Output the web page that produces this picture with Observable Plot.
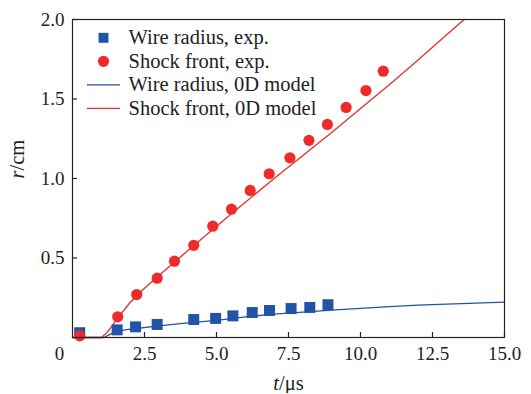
<!DOCTYPE html>
<html><head><meta charset="utf-8">
<script src="https://cdn.jsdelivr.net/npm/d3@7"></script>
<script src="https://cdn.jsdelivr.net/npm/@observablehq/plot@0.6"></script>
<style>body{margin:0;background:#fff}#chart{width:531px;height:394px}</style>
</head><body><div id="chart"></div>
<script>
// Experimental data
const wireExpT = [0.25, 1.55, 2.19, 2.94, 4.21, 4.97, 5.57, 6.24, 6.84, 7.59, 8.24, 8.87];
const wireExpR = [0.03, 0.048, 0.067, 0.082, 0.113, 0.12, 0.136, 0.157, 0.17, 0.182, 0.189, 0.206];
const shockExpT = [0.25, 1.57, 2.23, 2.94, 3.54, 4.21, 4.87, 5.52, 6.17, 6.83, 7.55, 8.21, 8.85, 9.50, 10.19, 10.79];
const shockExpR = [0.01, 0.13, 0.27, 0.373, 0.48, 0.58, 0.70, 0.807, 0.925, 1.03, 1.13, 1.24, 1.34, 1.447, 1.553, 1.675];
// 0D model curves
const wireModelT = [0, 1.1, 1.3, 1.5, 2, 3, 4, 5, 6, 7, 8, 9, 10, 11, 12, 13, 14, 15];
const wireModelR = [0, 0, 0.02, 0.038, 0.052, 0.073, 0.092, 0.108, 0.13, 0.147, 0.16, 0.172, 0.183, 0.194, 0.203, 0.21, 0.216, 0.222];
const shockModelT = [0, 1.0, 1.2, 1.4, 1.6, 2.0, 2.5, 3, 4, 5, 6, 7, 8, 9, 10, 11, 12, 13, 13.6];
const shockModelR = [0, 0, 0.03, 0.08, 0.13, 0.22, 0.31, 0.39, 0.545, 0.70, 0.85, 1.0, 1.145, 1.29, 1.44, 1.59, 1.745, 1.905, 2.0];
// Axis ticks & labels
const xTicks = [2.5, 5, 7.5, 10, 12.5, 15];
const yTicks = [0.5, 1.0, 1.5, 2.0];
const originLabel = ["0"];
const xLabel = ["t/μs"];
const yLabel = ["r/cm"];
const legendLabels = ["Wire radius, exp.", "Shock front, exp.", "Wire radius, 0D model", "Shock front, 0D model"];

const blue = "#2153a6", red = "#ee2a2a", ink = "#222222";
const font = "Liberation Serif";
const W = 531, H = 393, mL = 72, mR = 27, mT = 19, mB = 56;
const xDomain = [0, 15], yDomain = [0, 2];
// inward tick length of 5px expressed in data units
const tickLenX = 5 * (xDomain[1] - xDomain[0]) / (W - mL - mR);
const tickLenY = 5 * (yDomain[1] - yDomain[0]) / (H - mT - mB);

const wireExp = wireExpT.map((t, i) => ({t, r: wireExpR[i]}));
const shockExp = shockExpT.map((t, i) => ({t, r: shockExpR[i]}));
const wireModel = wireModelT.map((t, i) => ({t, r: wireModelR[i]}));
const shockModel = shockModelT.map((t, i) => ({t, r: shockModelR[i]}));

const lineSymbol = {draw(ctx) { ctx.moveTo(-16.5, 0); ctx.lineTo(16.5, 0); }};
const legendDy = [18.3, 41.8, 65.3, 88.8];
const legendSym = [
  {symbol: "square", r: 5.6, fill: blue, stroke: "none"},
  {symbol: "circle", r: 5.6, fill: red, stroke: "none"},
  {symbol: lineSymbol, r: 5, fill: "none", stroke: blue, strokeWidth: 1.3},
  {symbol: lineSymbol, r: 5, fill: "none", stroke: red, strokeWidth: 1.3}
];
const legendMarks = legendLabels.flatMap((lab, i) => [
  Plot.dot([lab], {frameAnchor: "top-left", dx: 31, dy: legendDy[i], ...legendSym[i]}),
  Plot.text([lab], {frameAnchor: "top-left", dx: 56, dy: legendDy[i], text: d => d, textAnchor: "start", lineAnchor: "middle", fontSize: 20.5, fontFamily: font, fill: ink})
]);

const chart = Plot.plot({
  width: W, height: H,
  marginLeft: mL, marginRight: mR, marginTop: mT, marginBottom: mB,
  style: {fontFamily: font, fontSize: "19px"},
  x: {domain: xDomain},
  y: {domain: yDomain},
  marks: [
    Plot.axisX({ticks: xTicks, tickSize: 0, tickPadding: 9, tickFormat: d3.format(".1f"), label: null, fontSize: 19, fontFamily: font, fill: ink}),
    Plot.axisY({ticks: yTicks, tickSize: 0, tickPadding: 8, tickFormat: d3.format(".1f"), label: null, fontSize: 19, fontFamily: font, fill: ink}),
    Plot.ruleX(xTicks, {x: d => d, y1: 0, y2: tickLenY, stroke: ink, strokeWidth: 1.2}),
    Plot.ruleY(yTicks, {y: d => d, x1: 0, x2: tickLenX, stroke: ink, strokeWidth: 1.2}),
    Plot.text(originLabel, {x: 0, y: 0, text: d => d, dx: -13, dy: 16, fontSize: 19, fontFamily: font, fill: ink}),
    Plot.line(wireModel, {x: "t", y: "r", stroke: blue, strokeWidth: 1.3}),
    Plot.line(shockModel, {x: "t", y: "r", stroke: red, strokeWidth: 1.3}),
    Plot.dot(wireExp, {x: "t", y: "r", symbol: "square", r: 6.2, fill: blue}),
    Plot.dot(shockExp, {x: "t", y: "r", symbol: "circle", r: 5.6, fill: red}),
    Plot.frame({stroke: ink, strokeWidth: 1.2}),
    ...legendMarks,
    Plot.text(yLabel, {frameAnchor: "left", dx: -55, rotate: -90, text: d => d, fontSize: 20.5, fontFamily: font, fill: ink}),
    Plot.text(xLabel, {frameAnchor: "bottom", dy: 46, text: d => d, lineAnchor: "middle", fontSize: 20.5, fontFamily: font, fill: ink})
  ]
});

const sel = d3.select(chart);
sel.selectAll("text").each(function() {
  const s = d3.select(this);
  const txt = s.text();
  if (txt === yLabel[0] || txt === xLabel[0]) {
    s.text(null);
    s.append("tspan").attr("font-style", "italic").text(txt.slice(0, 1));
    s.append("tspan").text(txt.slice(1));
  }
});
document.getElementById("chart").append(chart);
</script>
</body></html>
